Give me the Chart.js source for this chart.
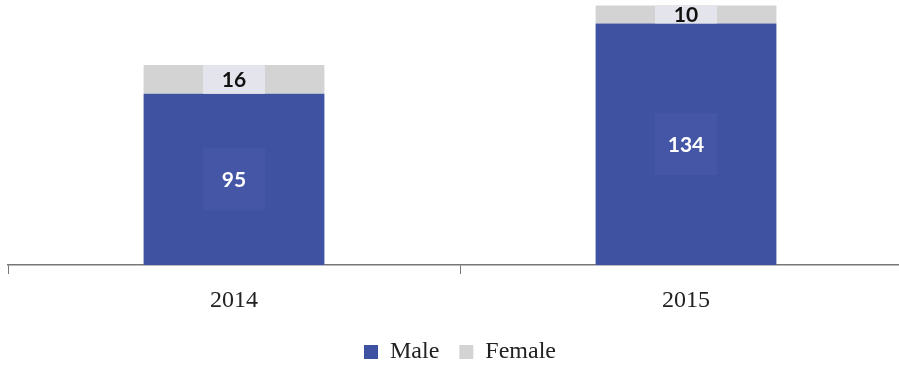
<!DOCTYPE html>
<html>
<head>
<meta charset="utf-8">
<script src="https://cdn.jsdelivr.net/npm/chart.js@4/dist/chart.umd.min.js"></script>
<style>
html,body{margin:0;padding:0;background:#fff;overflow:hidden;}
#wrap{width:912px;height:368px;}
</style>
</head>
<body>
<div id="wrap"><canvas id="c" width="912" height="368"></canvas></div>
<script>
const categories = ["2014", "2015"];
const maleValues = [95, 134];
const femaleValues = [16, 10];
const seriesNames = ["Male", "Female"];

const labelPlugin = {
  id: 'barLabels',
  afterDatasetsDraw(chart) {
    const ctx = chart.ctx;
    chart.data.datasets.forEach((ds, di) => {
      const meta = chart.getDatasetMeta(di);
      meta.data.forEach((bar, i) => {
        const v = ds.data[i];
        const cx = bar.x;
        const cy = (bar.y + bar.base) / 2;
        const h = Math.abs(bar.base - bar.y);
        ctx.save();
        const bw = 62;
        const bh = di === 0 ? 62 : h;
        ctx.fillStyle = di === 0 ? 'rgba(80,98,178,0.35)' : '#e4e4ec';
        ctx.fillRect(cx - bw / 2, cy - bh / 2, bw, bh);
        ctx.font = 'bold 21px Lato, "Open Sans", sans-serif';
        ctx.textAlign = 'center';
        ctx.textBaseline = 'middle';
        ctx.fillStyle = di === 0 ? '#ffffff' : '#111111';
        ctx.fillText(String(v), cx, cy + 1);
        ctx.restore();
      });
    });
  }
};

const legendFitPlugin = {
  id: 'legendFit',
  afterInit(chart) {
    const lg = chart.legend;
    if (!lg) return;
    const orig = lg.fit.bind(lg);
    lg.fit = function () { orig(); this.height = 48; };
  }
};

new Chart(document.getElementById('c'), {
  type: 'bar',
  data: {
    labels: categories,
    datasets: [
      { label: seriesNames[0], data: maleValues, backgroundColor: '#3f51a1', categoryPercentage: 0.8, barPercentage: 0.5 },
      { label: seriesNames[1], data: femaleValues, backgroundColor: '#d2d3d2', categoryPercentage: 0.8, barPercentage: 0.5 }
    ]
  },
  options: {
    responsive: false,
    animation: false,
    layout: { padding: { left: 8, right: 0, top: 0, bottom: 0 } },
    plugins: {
      legend: {
        position: 'bottom',
        labels: {
          font: { family: '"Liberation Serif", serif', size: 24 },
          color: '#222',
          boxWidth: 14, boxHeight: 14,
          padding: 20
        }
      },
      tooltip: { enabled: false }
    },
    scales: {
      x: {
        stacked: true,
        grid: { offset: true, drawOnChartArea: false, tickLength: 9, color: '#777' },
        border: { display: true, color: '#777', width: 1.5 },
        ticks: { font: { family: '"Liberation Serif", serif', size: 24 }, color: '#222', padding: 12 },
        afterFit(scale) { scale.height = 55; }
      },
      y: {
        stacked: true,
        display: false,
        min: 0, max: 147
      }
    }
  },
  plugins: [legendFitPlugin, labelPlugin]
});
</script>
</body>
</html>
